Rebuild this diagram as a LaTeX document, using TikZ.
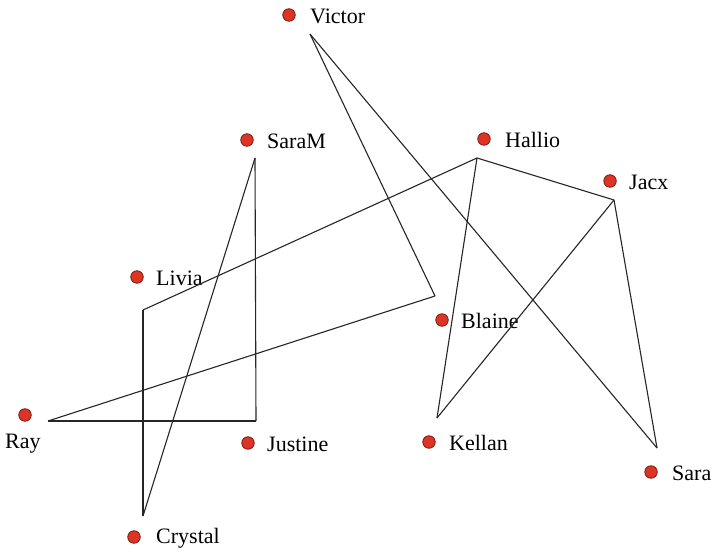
\documentclass[tikz,border=0pt]{standalone}
\usepackage{fontspec}
\setmainfont{Liberation Serif}
\begin{document}
\begin{tikzpicture}[x=1pt,y=-1pt,
  vertex/.style={circle,fill=dotred,draw=dotedge,line width=0.8pt,minimum size=12.5pt,inner sep=0pt},
  persontag/.style={anchor=west,inner sep=0pt,font=\fontsize{22}{24}\selectfont},
  link/.style={line width=1.1pt,draw=black!85}]
\definecolor{dotred}{RGB}{222,52,38}
\definecolor{dotedge}{RGB}{120,30,20}
\useasboundingbox[fill=white] (0,0) rectangle (712,553);

% people (dots)
\node[vertex] (Victor)  at (289,15)  {};
\node[vertex] (SaraM)   at (247,140) {};
\node[vertex] (Hallio)  at (484,139) {};
\node[vertex] (Jacx)    at (610,181) {};
\node[vertex] (Livia)   at (137,277) {};
\node[vertex] (Blaine)  at (442,320) {};
\node[vertex] (Ray)     at (25,415)  {};
\node[vertex] (Justine) at (248,443) {};
\node[vertex] (Kellan)  at (429,442) {};
\node[vertex] (Sara)    at (651,472) {};
\node[vertex] (Crystal) at (134,537) {};

% names
\node[persontag] (Victor-t)  at (310,16)  {Victor};
\node[persontag] (SaraM-t)   at (267,141) {SaraM};
\node[persontag] (Hallio-t)  at (505,140) {Hallio};
\node[persontag] (Jacx-t)    at (629,182) {Jacx};
\node[persontag] (Livia-t)   at (156,278) {Livia};
\node[persontag] (Blaine-t)  at (461,321) {Blaine};
\node[persontag] (Ray-t)     at (5,444)   {Ray};
\node[persontag] (Justine-t) at (267,444) {Justine};
\node[persontag] (Kellan-t)  at (449,443) {Kellan};
\node[persontag] (Sara-t)    at (672,473) {Sara};
\node[persontag] (Crystal-t) at (156,538) {Crystal};

% line end points, set off from the dots
\coordinate (Victor-a)  at (310,34);
\coordinate (SaraM-a)   at (255,158);
\coordinate (Hallio-a)  at (477,158);
\coordinate (Jacx-a)    at (614,200);
\coordinate (Livia-a)   at (143,310);
\coordinate (Blaine-a)  at (435,296);
\coordinate (Ray-a)     at (48,421);
\coordinate (Justine-a) at (256,421);
\coordinate (Kellan-a)  at (437,418);
\coordinate (Sara-a)    at (657,448);
\coordinate (Crystal-a) at (143,516);

% links
\draw[link] (Victor-a) -- (Blaine-a);
\draw[link] (Victor-a) -- (Sara-a);
\draw[link] (SaraM-a) -- (Justine-a);
\draw[link] (SaraM-a) -- (Crystal-a);
\draw[link] (Hallio-a) -- (Livia-a);
\draw[link] (Hallio-a) -- (Jacx-a);
\draw[link] (Hallio-a) -- (Kellan-a);
\draw[link] (Jacx-a) -- (Kellan-a);
\draw[link] (Jacx-a) -- (Sara-a);
\draw[link] (Livia-a) -- (Crystal-a);
\draw[link] (Blaine-a) -- (Ray-a);
\draw[link] (Ray-a) -- (Justine-a);
\end{tikzpicture}
\end{document}
